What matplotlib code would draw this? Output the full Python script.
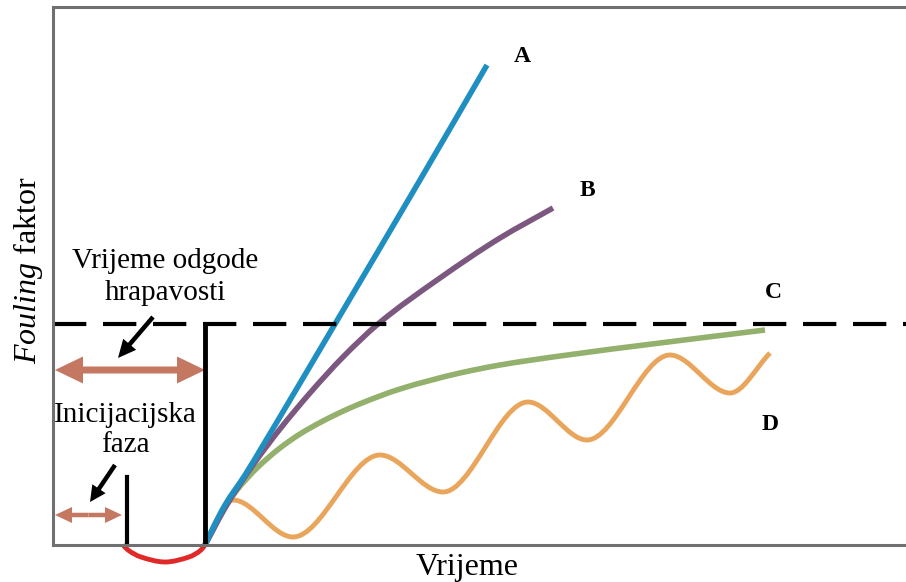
import matplotlib
matplotlib.use('Agg')
import matplotlib.pyplot as plt
from matplotlib.path import Path
from matplotlib.patches import PathPatch

plt.rcParams['font.family'] = ['Liberation Serif', 'DejaVu Serif']
plt.rcParams['mathtext.fontset'] = 'custom'
plt.rcParams['mathtext.rm'] = 'Liberation Serif'
plt.rcParams['mathtext.it'] = 'Liberation Serif:italic'

# ----------------- curves -----------------
a_t = [152, 159, 172, 192, 209, 237, 282, 367, 434]
a_f = [0, 15, 40, 70, 98, 145, 221, 365, 480]

b_t = [152, 159, 172, 200, 227, 257, 290, 325, 387, 447, 500]
b_f = [0, 13, 37, 80, 116, 152, 188, 221, 267, 307, 337]

c_t = [152, 167, 184, 204, 227, 247, 270, 297, 327, 347, 407, 447, 507, 607, 712]
c_f = [0, 30, 55, 77, 97, 111, 124, 137, 149, 156, 172, 180, 189, 202, 215]

# D: start, then alternating peaks and troughs, then end
d_t = [152, 180, 240, 327, 390, 475, 534, 617, 677, 717]
d_f = [0, 45, 8, 90, 53, 143, 105, 190, 152, 192]

dip_t = [70, 75, 88, 112, 136, 148, 152]
dip_f = [0, -5, -12, -17, -12, -5, 0]

threshold = 221
delay_end = 152
init_end = 74
init_height = 68

curve_names = ['A', 'B', 'C', 'D']
name_pos = [(469, 488), (534, 355), (720, 253), (717, 120)]


def smooth_curve(ax, xs, ys, **kw):
    # monotone cubic (pchip style) through the read points, as bezier segments
    n = len(xs)
    h = [xs[i + 1] - xs[i] for i in range(n - 1)]
    d = [(ys[i + 1] - ys[i]) / h[i] for i in range(n - 1)]
    m = [d[0]] + [0.0] * (n - 2) + [d[-1]]
    for i in range(1, n - 1):
        if d[i - 1] * d[i] > 0:
            w1 = 2 * h[i] + h[i - 1]
            w2 = h[i] + 2 * h[i - 1]
            m[i] = (w1 + w2) / (w1 / d[i - 1] + w2 / d[i])
    verts = [(xs[0], ys[0])]
    codes = [Path.MOVETO]
    for i in range(n - 1):
        k = h[i] / 3
        verts += [(xs[i] + k, ys[i] + m[i] * k),
                  (xs[i + 1] - k, ys[i + 1] - m[i + 1] * k),
                  (xs[i + 1], ys[i + 1])]
        codes += [Path.CURVE4] * 3
    patch = PathPatch(Path(verts, codes), fill=False, capstyle='butt', **kw)
    ax.add_patch(patch)
    return patch


fig = plt.figure(figsize=(9.06, 5.82), dpi=100)
ax = fig.add_axes([53 / 906, 37 / 582, 853 / 906, 538 / 582])
ax.set_xlim(0, 853)
ax.set_ylim(0, 538)
ax.set_xticks([])
ax.set_yticks([])
ax.spines['right'].set_visible(False)
for s in ['left', 'top', 'bottom']:
    ax.spines[s].set_color('#707070')
    ax.spines[s].set_linewidth(2.2)

ax.axhline(threshold, color='black', lw=3, dashes=(8, 4))

smooth_curve(ax, c_t, c_f, edgecolor='#93b06c', lw=4)
smooth_curve(ax, d_t, d_f, edgecolor='#eaa55c', lw=3.5)
smooth_curve(ax, b_t, b_f, edgecolor='#7c5880', lw=4)
smooth_curve(ax, a_t, a_f, edgecolor='#1f8fc2', lw=4)
dip = smooth_curve(ax, dip_t, dip_f, edgecolor='#e02a2a', lw=3.5)
dip.set_clip_on(False)

ax.plot([delay_end, delay_end], [0, threshold], color='black', lw=3.5)
ax.plot([init_end, init_end], [0, init_height], color='black', lw=3)

# brown double arrows
brown = '#c47862'
mid = (2 + delay_end) / 2
for end in (2, delay_end):
    ax.arrow(mid, 175, end - mid, 0, width=7, head_width=27, head_length=28,
             length_includes_head=True, color=brown, lw=0)
mid2 = (2 + init_end - 5) / 2
for end in (2, init_end - 5):
    ax.arrow(mid2, 30, end - mid2, 0, width=4.5, head_width=16, head_length=17,
             length_includes_head=True, color=brown, lw=0)

# black pointers
ax.arrow(100, 228, -35, -41, width=4.5, head_width=17, head_length=18,
         length_includes_head=True, color='black', lw=0)
ax.arrow(62, 80, -25, -37, width=4.5, head_width=16, head_length=16,
         length_includes_head=True, color='black', lw=0)

ax.text(112, 268, 'Vrijeme odgode\nhrapavosti', ha='center', va='center',
        fontsize=21, linespacing=1.25)
ax.text(72, 115, 'Inicijacijska\nfaza', ha='center', va='center',
        fontsize=21, linespacing=1.25)

for name, (x, y) in zip(curve_names, name_pos):
    ax.text(x, y, name, ha='center', va='center', fontsize=17, fontweight='bold')

ax.text(-25, 275, r'$\it{Fouling}$ faktor', rotation=90, ha='center', va='center',
        fontsize=23, clip_on=False)
ax.text(414, -22, 'Vrijeme', ha='center', va='center', fontsize=23, clip_on=False)

fig.savefig('out.png', dpi=100)
